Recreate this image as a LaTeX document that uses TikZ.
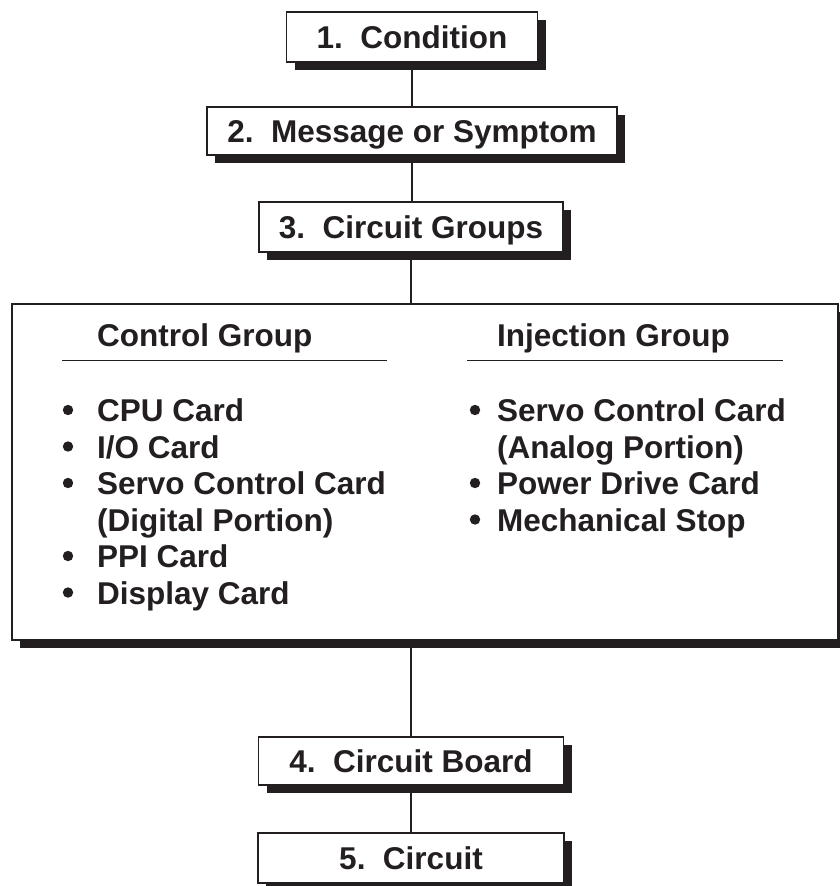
\documentclass[tikz,border=0pt]{standalone}
\usepackage{fontspec}
\setmainfont{Liberation Sans}
\usetikzlibrary{shadows}
\definecolor{ink}{RGB}{35,31,32}
\begin{document}
\begin{tikzpicture}[x=1pt,y=-1pt,
  every node/.style={font=\fontsize{31.5}{36.8}\selectfont\bfseries, text=ink},
  stepbox/.style={draw=ink, line width=1.8pt, fill=white, inner sep=0pt,
    text height=23pt, text depth=0pt,
    drop shadow={shadow xshift=8pt, shadow yshift=-8pt, fill=ink, opacity=1}},
  link/.style={draw=ink, line width=2pt},
  item/.style={anchor=base west, inner sep=0pt},
  dot/.style={fill=ink, draw=none}]
\useasboundingbox (0,0) rectangle (840,886);

% chain of boxes
\node[stepbox, minimum width=251pt, minimum height=50pt] (b1) at (412,37) {1.\ \ Condition};
\node[stepbox, minimum width=410pt, minimum height=48pt] (b2) at (412,131) {2.\ \ Message or Symptom};
\node[stepbox, minimum width=304pt, minimum height=50pt] (b3) at (411,227) {3.\ \ Circuit Groups};
\node[stepbox, minimum width=826pt, minimum height=336pt] (grp) at (425,472) {};
\node[stepbox, minimum width=305pt, minimum height=48pt] (b4) at (411,761) {4.\ \ Circuit Board};
\node[stepbox, minimum width=306pt, minimum height=50pt] (b5) at (411,858) {5.\ \ Circuit};

% connectors
\draw[link] (b1.south) -- (b1.south |- b2.north);
\draw[link] (b2.south) -- (b2.south |- b3.north);
\draw[link] (b3.south) -- (b3.south |- grp.north);
\coordinate (gb) at (b4.north |- grp.south);
\draw[link] (gb) -- (b4.north);
\draw[link] (b4.south) -- (b4.south |- b5.north);

% column headings
\node[item] (hc) at (97,346) {Control Group};
\node[item] (hi) at (497,346) {Injection Group};
\coordinate (ulc1) at (62,360);
\coordinate (ulc2) at (387,360);
\coordinate (uli1) at (467,360);
\coordinate (uli2) at (783,360);
\draw[ink, line width=1pt] (ulc1) -- (ulc2);
\draw[ink, line width=1pt] (uli1) -- (uli2);

% control group items
\node[item] (c1) at (97,421.5) {CPU Card};
\node[item] (c2) at (97,458) {I/O Card};
\node[item] (c3) at (97,494.5) {Servo Control Card};
\node[item] (c4) at (97,531) {(Digital Portion)};
\node[item] (c5) at (97,567.5) {PPI Card};
\node[item] (c6) at (97,604) {Display Card};
\foreach \y in {421.5,458,494.5,567.5,604}
  \fill[dot] (68,\y-11.5) circle (5.2pt);

% injection group items
\node[item] (j1) at (497,421.5) {Servo Control Card};
\node[item] (j2) at (497,458) {(Analog Portion)};
\node[item] (j3) at (497,494.5) {Power Drive Card};
\node[item] (j4) at (497,531) {Mechanical Stop};
\foreach \y in {421.5,494.5,531}
  \fill[dot] (475,\y-11.5) circle (5.2pt);
\end{tikzpicture}
\end{document}
